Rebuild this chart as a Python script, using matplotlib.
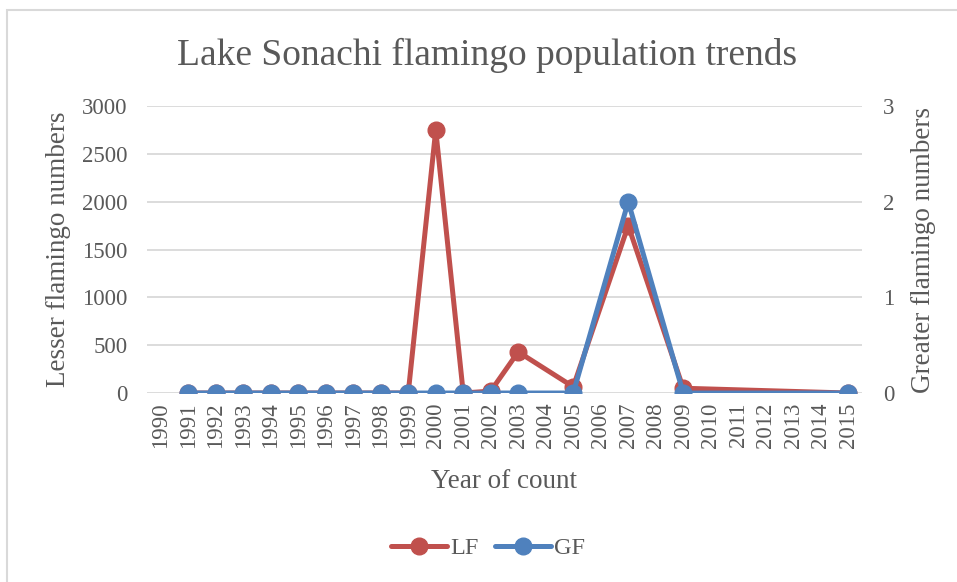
import matplotlib.pyplot as plt
from matplotlib.patches import Rectangle

years_axis = list(range(1990, 2016))
years = [1991, 1992, 1993, 1994, 1995, 1996, 1997, 1998, 1999, 2000,
         2001, 2002, 2003, 2005, 2007, 2009, 2015]
lf = [0, 0, 0, 0, 0, 0, 0, 0, 0, 2750, 0, 20, 430, 65, 1750, 50, 0]
gf = [0, 0, 0, 0, 0, 0, 0, 0, 0, 0, 0, 0, 0, 0, 2, 0, 0]

plt.rcParams['font.family'] = ['Liberation Serif', 'DejaVu Serif']
txt = "#595959"
grid = "#d9d9d9"
red = "#c0504d"
blue = "#4f81bd"

fig = plt.figure(figsize=(9.57, 5.82), dpi=100)
ax = fig.add_axes([0.1536, 0.3247, 0.7471, 0.4932])
ax2 = ax.twinx()

l1, = ax.plot(years, lf, color=red, lw=3.6, marker="o", ms=12,
              solid_capstyle="round", label="LF")
l2, = ax2.plot(years, gf, color=blue, lw=3.6, marker="o", ms=12,
               solid_capstyle="round", label="GF")

ax.set_xlim(1989.5, 2015.5)
ax.set_ylim(0, 3000)
ax2.set_ylim(0, 3)
ax.set_yticks(range(0, 3001, 500))
ax2.set_yticks([0, 1, 2, 3])
ax.set_xticks(years_axis)
ax.set_xticklabels([str(y) for y in years_axis], rotation=90)
ax.yaxis.grid(True, color=grid, lw=1.3)
ax.set_axisbelow(True)

for a in (ax, ax2):
    for s in a.spines.values():
        s.set_visible(False)
    a.tick_params(length=0, colors=txt, labelsize=16.5)
ax.tick_params(axis="y", pad=14)
ax2.tick_params(axis="y", pad=15)
ax.tick_params(axis="x", pad=7)

ax.set_xlabel("Year of count", fontsize=19.5, color=txt, labelpad=15)
ax.set_ylabel("Lesser flamingo numbers", fontsize=19.5, color=txt, labelpad=8)
ax2.set_ylabel("Greater flamingo numbers", fontsize=19.5, color=txt,
               rotation=90, labelpad=12)

fig.text(0.509, 0.905, "Lake Sonachi flamingo population trends",
         ha="center", va="center", fontsize=27, color=txt)

fig.legend(handles=[l1, l2], loc="center", bbox_to_anchor=(0.51, 0.058),
           ncol=2, frameon=False, fontsize=17.5, labelcolor=txt,
           handlelength=2.3, handletextpad=0.12, columnspacing=0.7)

fig.patches.append(Rectangle((7 / 957, -0.1), 1.2, 0.1 + 572 / 582,
                             transform=fig.transFigure, fill=False,
                             edgecolor=grid, lw=1.5))

fig.savefig("out.png", dpi=100)
